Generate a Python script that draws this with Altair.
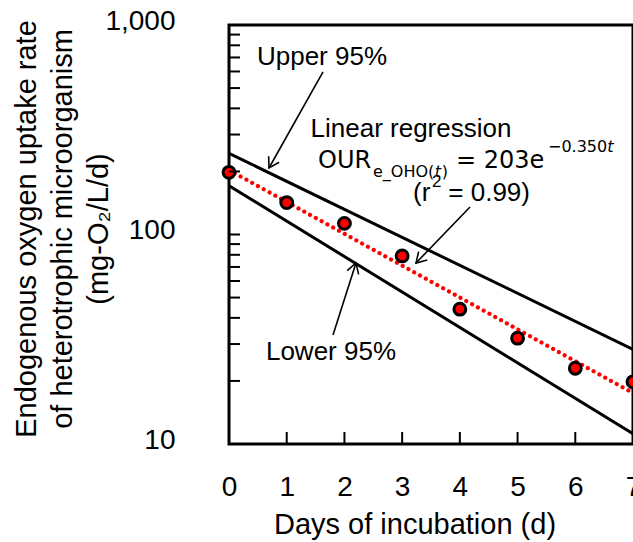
import math

import altair as alt
import pandas as pd

# ---- measured endogenous OUR of heterotrophs ----
days = [0, 1, 2, 3, 4, 5, 6, 7]
our_measured = [198, 142, 113, 79, 44, 32, 23, 19.8]

# ---- log-linear fit: OUR = a * exp(-k t) ----
fit_a = 203
fit_k = 0.350
fit_r2 = 0.99

# ---- 95% bounds of the fit (straight lines on the log axis) ----
band_days = [0, 7]
upper_95 = [244, 28.3]
lower_95 = [171, 11.2]

# ---- axis ticks ----
x_tick_values = [0, 1, 2, 3, 4, 5, 6, 7]
x_inner_ticks = [1, 2, 3, 4, 5, 6]
y_tick_values = [10, 100, 1000]
y_inner_ticks = [20, 30, 40, 50, 60, 70, 80, 90, 100,
                 200, 300, 400, 500, 600, 700, 800, 900]

W, H = 404, 419
SANS = "Liberation Sans"
MATH = "DejaVu Sans"

x_scale = alt.Scale(domain=[0, 7], nice=False, zero=False)
y_scale = alt.Scale(type="log", domain=[10, 1000], nice=False)

x_axis = alt.Axis(
    values=x_tick_values, format="d", ticks=False, domain=False, grid=False,
    labelFont=SANS, labelFontSize=28, labelColor="black", labelPadding=29,
    labelFlush=False, labelOverlap=False,
    title="Days of incubation (d)", titleFont=SANS, titleFontSize=29,
    titleFontWeight="normal", titleColor="black", titleX=185.5, titleY=89,
    titleAlign="center", titleBaseline="alphabetic",
)
y_axis = alt.Axis(
    values=y_tick_values, format=",", ticks=False, domain=False, grid=False,
    labelFont=SANS, labelFontSize=28, labelColor="black", labelPadding=54,
    labelOffset=-4, labelBaseline="middle", labelOverlap=False,
    title=["Endogenous oxygen uptake rate",
           "of heterotrophic microorganism",
           "(mg-O\u2082/L/d)"],
    titleFont=SANS, titleFontSize=29, titleFontWeight="normal",
    titleColor="black", titleAngle=270, titleX=-194, titleY=203.5,
    titleAlign="center", titleBaseline="alphabetic", titleLineHeight=36,
)


def X(field="day"):
    return alt.X(f"{field}:Q", scale=x_scale, axis=x_axis)


def Y(field="rate"):
    return alt.Y(f"{field}:Q", scale=y_scale, axis=y_axis)


measured = pd.DataFrame({"day": days, "rate": our_measured})
fit_line = pd.DataFrame({
    "day": band_days,
    "rate": [fit_a * math.exp(-fit_k * d) for d in band_days],
})
upper = pd.DataFrame({"day": band_days, "rate": upper_95})
lower = pd.DataFrame({"day": band_days, "rate": lower_95})

upper_layer = alt.Chart(upper).mark_line(color="black", strokeWidth=3).encode(x=X(), y=Y())
lower_layer = alt.Chart(lower).mark_line(color="black", strokeWidth=3).encode(x=X(), y=Y())
fit_layer = alt.Chart(fit_line).mark_line(
    color="#ff0000", strokeWidth=4.2, strokeDash=[0.01, 6.6], strokeCap="round"
).encode(x=X(), y=Y())
point_layer = alt.Chart(measured).mark_point(
    shape="circle", filled=True, fill="#ff0000", stroke="black",
    strokeWidth=3, size=140, opacity=1,
).encode(x=X(), y=Y())

# inward ticks along the left and bottom frame
y_tick_layer = alt.Chart(pd.DataFrame({"rate": y_inner_ticks})).mark_rule(
    color="black", strokeWidth=2
).encode(x=alt.value(0), x2=alt.value(11), y=Y())
x_tick_layer = alt.Chart(pd.DataFrame({"day": x_inner_ticks})).mark_rule(
    color="black", strokeWidth=2
).encode(x=X(), y=alt.value(H), y2=alt.value(H - 12))

# annotation arrows: (from day, from rate, to day, to rate)
arrows = pd.DataFrame({
    "day": [1.629, 4.176, 1.802],
    "rate": [596.8, 135.3, 33.1],
    "day2": [0.693, 3.240, 2.200],
    "rate2": [207.7, 73.1, 73.1],
})
px_per_day = W / 7
px_per_decade = H / 2
arrows["angle"] = [
    math.degrees(math.atan2(
        -(math.log10(r2) - math.log10(r1)) * px_per_decade,
        (d2 - d1) * px_per_day,
    )) % 360
    for d1, r1, d2, r2 in zip(arrows.day, arrows.rate, arrows.day2, arrows.rate2)
]
shaft_layer = alt.Chart(arrows).mark_rule(color="black", strokeWidth=1.6).encode(
    x=X(), y=Y(), x2="day2:Q", y2="rate2:Q"
)
head_layer = alt.Chart(arrows).mark_point(
    shape="M -1 -0.6 L 0 0 L -1 0.6", filled=False, stroke="black",
    strokeWidth=1.6, size=400, opacity=1,
).encode(x=X("day2"), y=Y("rate2"), angle=alt.Angle("angle:Q", scale=None))

# text annotations: (text, day, rate, font, size, style, align)
notes = [
    ("Upper 95%", 1.611, 644.3, SANS, 26, "normal", "center"),
    ("Linear regression", 3.153, 292.1, SANS, 26, "normal", "center"),
    ("(r", 3.188, 144.5, SANS, 26, "normal", "left"),
    ("2", 3.517, 168.5, SANS, 17, "normal", "left"),
    (f"= {fit_r2:.2f})", 3.80, 144.5, SANS, 26, "normal", "left"),
    ("Lower 95%", 1.767, 25.18, SANS, 26, "normal", "center"),
    ("OUR", 1.542, 207.7, MATH, 24, "normal", "left"),
    ("e_OHO(", 2.495, 188.1, MATH, 16, "normal", "left"),
    ("t", 3.565, 188.1, MATH, 16, "italic", "left"),
    (")", 3.685, 188.1, MATH, 16, "normal", "left"),
    (f"= {fit_a}e", 3.933, 207.7, MATH, 24, "normal", "left"),
    (f"\u2212{fit_k:.3f}", 5.527, 247.6, MATH, 16, "normal", "left"),
    ("t", 6.553, 247.6, MATH, 16, "italic", "left"),
]
text_layers = []
for label, d, r, font, size, style, align in notes:
    text_layers.append(
        alt.Chart(pd.DataFrame({"day": [d], "rate": [r], "label": [label]}))
        .mark_text(font=font, fontSize=size, fontStyle=style, align=align,
                   baseline="alphabetic", color="black")
        .encode(x=X(), y=Y(), text="label:N")
    )

chart = alt.layer(
    upper_layer, lower_layer, fit_layer, point_layer,
    y_tick_layer, x_tick_layer, shaft_layer, head_layer, *text_layers,
).properties(
    width=W, height=H,
    autosize="none",
    padding={"left": 229, "top": 25, "right": 0, "bottom": 98},
    background="white",
).configure_view(stroke="black", strokeWidth=3)

chart.save("out.html", embed_options={"renderer": "svg", "actions": False})
